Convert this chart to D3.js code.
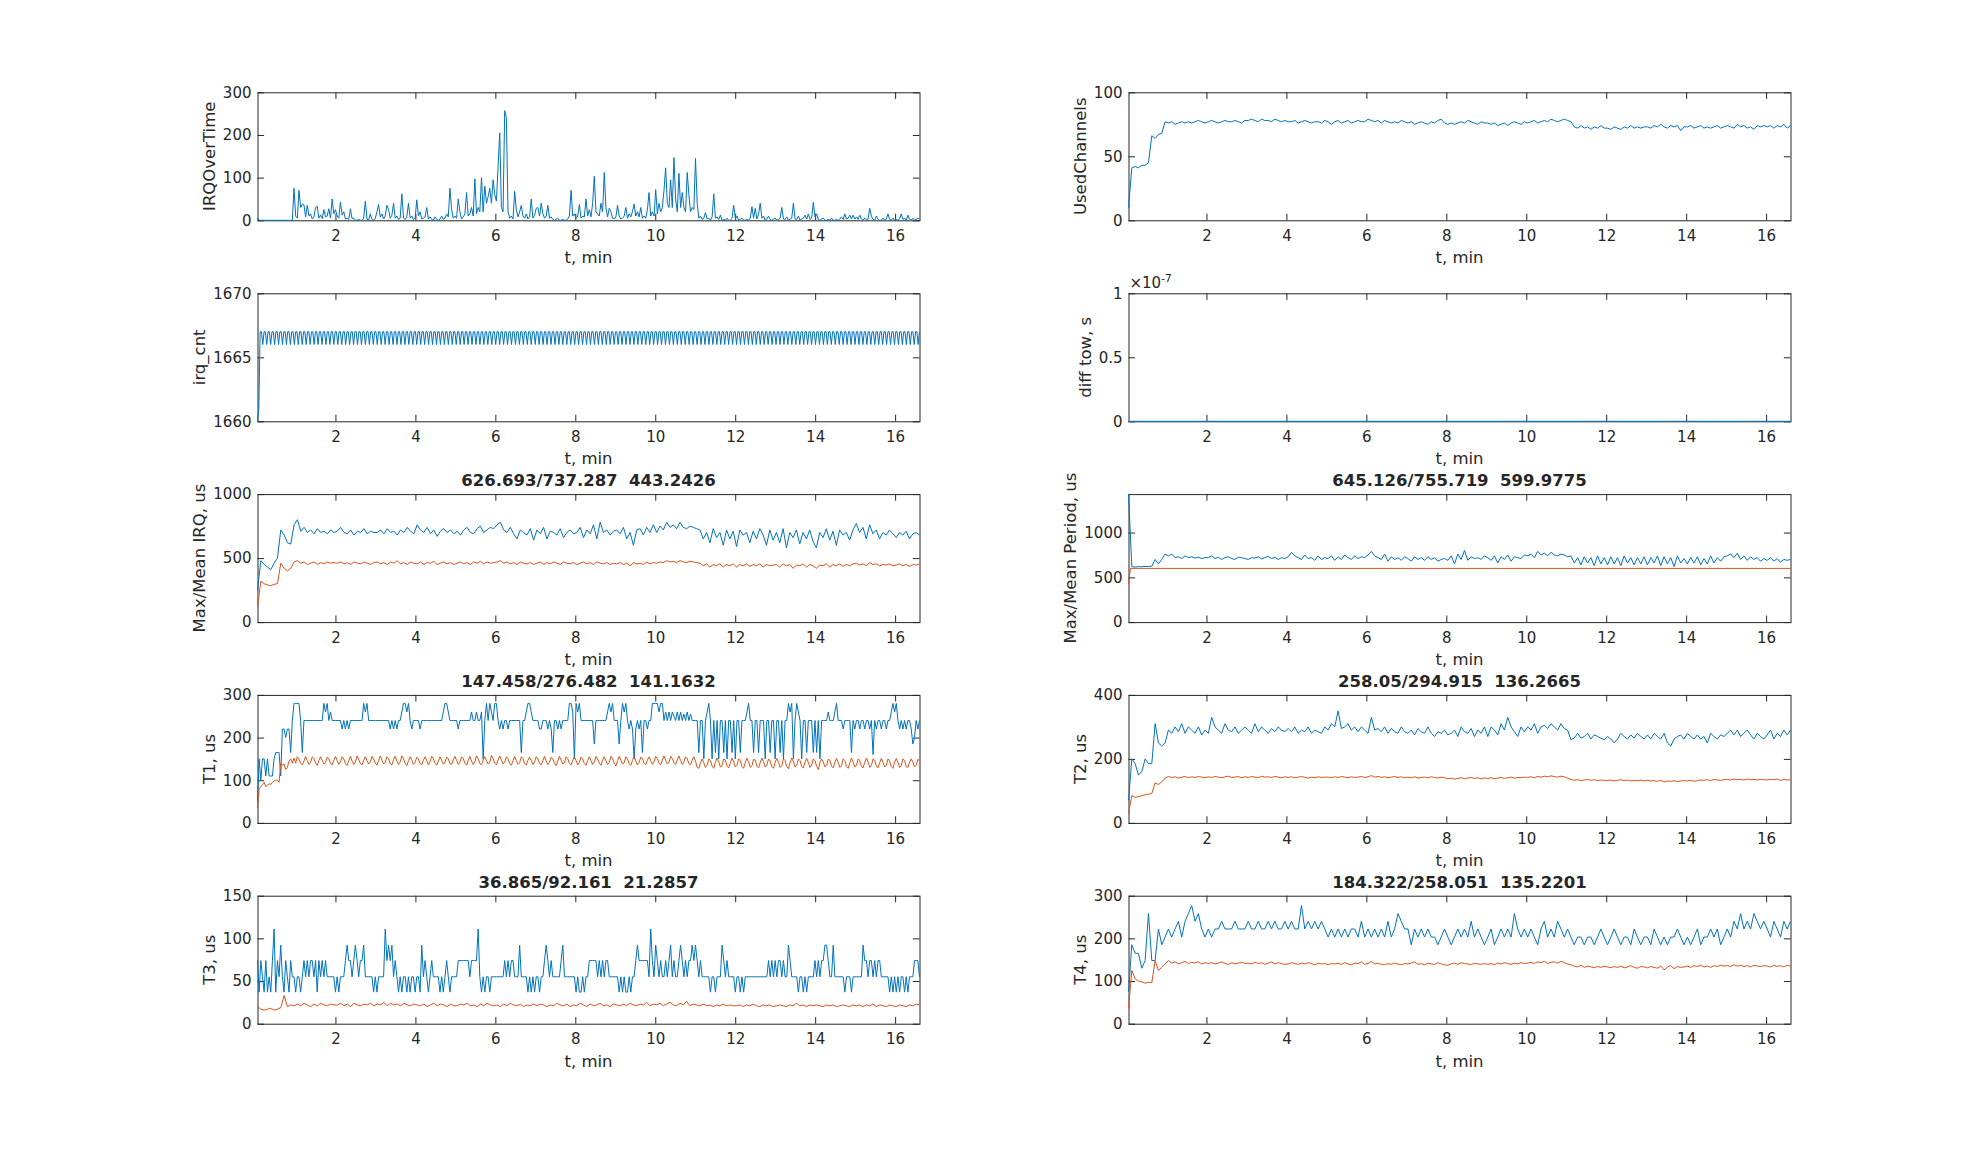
<!DOCTYPE html>
<html>
<head>
<meta charset="utf-8">
<script src="https://cdnjs.cloudflare.com/ajax/libs/d3/7.8.5/d3.min.js"></script>
<style>
  body { margin: 0; background: #fff; }
  svg text { font-family: "DejaVu Sans", sans-serif; fill: #262626; }
</style>
</head>
<body>
<div id="chart"></div>
<script>
// time axis, minutes (samples are evenly spaced over this range)
const tStart = 0.05, tEnd = 16.61;
const xTicks = [2, 4, 6, 8, 10, 12, 14, 16];

// IRQOverTime (400 samples)
const irqOverTime = [
  5,0,0,0,0,0,0,0,0,0,0,0,0,0,0,0,0,0,0,0,0,0,75,10,
  5,70,30,38,36,8,35,10,15,3,8,30,33,5,12,4,25,8,10,27,5,50,15,25,
  10,5,43,12,20,3,5,2,27,4,5,0,0,2,0,0,5,45,3,0,15,2,0,5,
  20,37,8,15,3,10,35,25,5,12,40,5,10,2,5,62,5,2,8,40,5,10,2,5,
  48,10,20,3,5,8,30,3,8,2,0,8,2,0,3,10,2,5,15,8,75,25,5,10,
  5,50,20,3,8,15,65,10,15,30,10,97,15,30,20,100,20,80,40,55,75,40,95,60,
  45,125,205,30,20,257,240,20,5,10,3,68,25,8,20,35,10,5,15,3,8,50,5,12,
  28,30,10,40,15,5,10,35,5,8,2,0,3,5,0,0,2,0,0,3,10,70,10,15,
  5,10,37,5,10,8,50,10,25,8,40,103,20,15,10,40,20,112,30,8,28,20,5,3,
  8,35,10,3,5,10,30,5,15,8,20,38,10,20,8,30,5,10,5,25,65,10,20,10,
  72,15,40,20,30,70,123,40,30,95,30,147,50,20,110,30,65,30,20,112,60,20,30,25,
  145,40,5,10,2,5,18,3,5,0,8,62,5,8,2,12,0,2,0,5,0,0,5,35,
  5,10,0,2,5,0,0,2,0,5,32,5,28,3,15,40,5,10,0,3,10,2,0,3,
  5,0,2,5,30,3,2,8,0,3,5,40,3,2,10,0,3,5,12,3,15,2,5,42,
  8,15,2,0,3,5,0,0,2,0,5,0,0,2,0,3,8,2,15,3,5,12,3,12,
  3,8,2,12,3,0,5,2,3,28,10,2,0,10,2,0,0,5,0,3,15,2,0,5,
  0,2,0,3,15,2,5,0,12,2,0,5,0,2,5,3
];

// irq_cnt (dense samples, mostly 1667 with short dips to 1666)
const irqCnt = [
  1660,1661,1667,1667,1666,1667,1667,1666,1667,1667,1666,1667,1667,1666,1667,1667,1666,1667,1667,1666,1667,1667,1666,1667,
  1667,1666,1667,1667,1666,1667,1667,1666,1667,1667,1666,1667,1667,1666,1667,1667,1666,1667,1667,1666,1667,1667,1666,1667,
  1667,1666,1667,1667,1666,1667,1667,1666,1667,1667,1666,1667,1667,1666,1667,1667,1666,1667,1667,1666,1667,1667,1666,1667,
  1667,1666,1667,1667,1666,1667,1667,1666,1667,1667,1666,1667,1667,1666,1667,1667,1666,1667,1667,1666,1667,1667,1666,1667,
  1667,1666,1667,1667,1666,1667,1667,1666,1667,1667,1666,1667,1667,1666,1667,1667,1666,1667,1667,1666,1667,1667,1666,1667,
  1667,1666,1667,1667,1666,1667,1667,1666,1667,1667,1666,1667,1667,1666,1667,1667,1666,1667,1667,1666,1667,1667,1666,1667,
  1667,1666,1667,1667,1666,1667,1667,1666,1667,1667,1666,1667,1667,1666,1667,1667,1666,1667,1667,1666,1667,1667,1666,1667,
  1667,1666,1667,1667,1666,1667,1667,1666,1667,1667,1666,1667,1667,1666,1667,1667,1666,1667,1667,1666,1667,1667,1666,1667,
  1667,1666,1667,1667,1666,1667,1667,1666,1667,1667,1666,1667,1667,1666,1667,1667,1666,1667,1667,1666,1667,1667,1666,1667,
  1667,1666,1667,1667,1666,1667,1667,1666,1667,1667,1666,1667,1667,1666,1667,1667,1666,1667,1667,1666,1667,1667,1666,1667,
  1667,1666,1667,1667,1666,1667,1667,1666,1667,1667,1666,1667,1667,1666,1667,1667,1666,1667,1667,1666,1667,1667,1666,1667,
  1667,1666,1667,1667,1666,1667,1667,1666,1667,1667,1666,1667,1667,1666,1667,1667,1666,1667,1667,1666,1667,1667,1666,1667,
  1667,1666,1667,1667,1666,1667,1667,1666,1667,1667,1666,1667,1667,1666,1667,1667,1666,1667,1667,1666,1667,1667,1666,1667,
  1667,1666,1667,1667,1666,1667,1667,1666,1667,1667,1666,1667,1667,1666,1667,1667,1666,1667,1667,1666,1667,1667,1666,1667,
  1667,1666,1667,1667,1666,1667,1667,1666,1667,1667,1666,1667,1667,1666,1667,1667,1666,1667,1667,1666,1667,1667,1666,1667,
  1667,1666,1667,1667,1666,1667,1667,1666,1667,1667,1666,1667,1667,1666,1667,1667,1666,1667,1667,1666,1667,1667,1666,1667,
  1667,1666,1667,1667,1666,1667,1667,1666,1667,1667,1666,1667,1667,1666,1667,1667,1666,1667,1667,1666,1667,1667,1666,1667,
  1667,1666,1667,1667,1666,1667,1667,1666,1667,1667,1666,1667,1667,1666,1667,1667,1666,1667,1667,1666,1667,1667,1666,1667,
  1667,1666,1667,1667,1666,1667,1667,1666,1667,1667,1666,1667,1667,1666,1667,1667,1666,1667,1667,1666,1667,1667,1666,1667,
  1667,1666,1667,1667,1666,1667,1667,1666,1667,1667,1666,1667,1667,1666,1667,1667,1666,1667,1667,1666,1667,1667,1666,1667,
  1667,1666,1667,1667,1666,1667,1667,1666,1667,1667,1666,1667,1667,1666,1667,1667,1666,1667,1667,1666,1667,1667,1666,1667
];

// UsedChannels (200 samples)
const usedChannels = [
  10,41,42,41,43,43,45,66,64,67,68,77,
  76,77,75,76,77,76,77,76,77,78,77,76,
  77,78,77,76,77,78,77,77,78,77,76,78,
  78,79,78,77,79,78,78,77,79,78,77,78,
  77,77,78,76,77,78,77,76,77,77,76,78,
  77,75,77,78,76,77,78,76,77,78,77,77,
  79,78,77,78,76,78,77,76,77,76,78,77,
  76,77,75,76,77,76,75,77,76,78,79,76,
  75,76,75,76,77,76,78,77,76,75,77,76,
  76,75,76,74,75,76,74,76,77,76,75,77,
  76,77,78,76,77,78,77,79,78,77,78,79,
  78,77,73,72,74,72,73,71,73,72,74,72,
  72,71,73,72,71,73,72,74,72,73,72,73,
  73,72,74,73,75,73,72,74,73,74,70,73,
  73,74,72,73,74,72,73,72,73,74,72,73,
  74,73,72,75,73,74,72,73,71,74,73,74,
  73,74,72,74,73,75,72,74
];

// diff tow, s
const diffTow = [0,0,0,0,0,0,0,0,0,0];

// Max/Mean IRQ, us (200 samples each)
const irqMax = [
  250,480,450,430,410,460,500,720,680,620,610,760,
  800,710,740,700,720,690,730,700,710,690,720,700,
  710,740,700,690,720,680,710,700,730,690,710,700,
  700,720,690,730,700,710,680,720,700,740,710,690,
  760,720,700,740,690,720,670,710,730,700,720,690,
  710,680,720,740,700,690,730,750,700,720,740,730,
  760,780,720,700,740,690,650,720,700,680,730,640,
  720,690,740,650,710,700,680,730,660,700,720,690,
  700,740,660,720,690,760,650,780,700,720,680,710,
  720,690,740,650,700,600,720,730,680,740,700,760,
  700,750,720,780,740,760,730,780,740,730,750,740,
  730,720,650,700,620,730,660,700,600,720,650,710,
  590,720,680,700,620,710,650,730,680,600,720,640,
  700,620,730,580,700,660,720,610,700,650,720,630,
  580,700,660,730,640,710,600,720,680,700,640,720,
  770,700,740,650,760,690,720,650,700,680,720,690,
  660,700,680,710,650,690,700,680
];
const irqMean = [
  120,320,300,290,285,295,300,460,420,400,420,470,
  480,460,470,450,460,470,450,465,455,470,460,465,
  460,470,455,465,450,470,460,455,470,460,450,465,
  470,455,465,450,470,460,480,455,465,450,470,460,
  455,470,450,465,460,475,450,460,470,455,465,450,
  460,470,455,465,450,470,460,475,455,470,460,465,
  470,480,460,470,455,465,450,470,460,455,465,450,
  460,470,450,465,455,470,460,450,470,460,455,465,
  450,460,470,455,465,450,470,460,455,465,450,460,
  455,465,450,460,440,465,455,460,450,470,455,465,
  460,470,465,480,470,475,465,480,470,465,475,470,
  465,460,440,455,430,450,440,455,430,450,440,455,
  430,450,440,455,435,450,440,455,430,450,440,445,
  450,430,455,440,450,420,445,440,455,430,450,440,
  420,445,440,455,430,450,440,455,435,450,440,455,
  460,445,455,440,465,450,455,440,450,445,455,440,
  445,455,440,450,435,450,445,455
];

// Max/Mean Period, us
const periodMax = [
  1430,620,615,620,618,622,620,625,700,650,700,760,
  740,760,720,730,710,740,720,730,715,725,710,720,
  720,740,710,725,700,720,730,710,700,725,720,710,
  700,720,715,730,705,720,735,710,725,700,720,710,
  730,780,740,720,700,750,710,720,690,740,700,720,
  710,740,690,730,700,750,720,700,740,710,730,720,
  750,790,740,720,700,760,680,730,700,720,690,730,
  710,680,730,700,720,690,730,700,720,680,700,710,
  690,740,650,760,700,800,690,730,710,720,700,740,
  720,690,740,660,730,700,750,680,730,720,710,750,
  740,760,720,790,750,770,740,780,750,740,760,750,
  730,740,660,720,640,730,660,720,630,740,650,720,
  640,730,650,720,630,740,660,720,640,720,650,730,
  640,720,660,740,630,730,650,720,620,740,660,710,
  650,720,660,730,640,710,650,740,660,720,680,730,
  740,760,720,770,700,740,690,730,700,720,680,710,
  690,720,680,710,670,700,690,700
];
const periodMeanT = [0.05, 0.1, 16.61];
const periodMean = [430, 600, 600];

// T1, us (400 samples each)
const t1Max = [
  50,150,100,150,150,110,150,110,110,110,150,165,165,165,110,220,220,200,220,220,165,240,280,280,
  280,280,240,165,240,240,240,240,240,240,240,240,240,240,240,240,280,260,280,240,260,240,240,240,
  240,240,240,220,240,220,240,220,240,240,240,240,240,240,240,240,280,260,280,240,240,240,240,240,
  240,240,240,240,240,240,240,240,220,240,220,240,220,240,240,260,280,280,260,280,240,220,240,240,
  240,240,220,240,240,240,240,240,240,240,240,240,240,240,240,240,260,280,280,260,240,240,240,240,
  240,220,240,240,240,240,240,240,240,260,240,240,260,240,240,260,150,240,280,240,280,260,240,280,
  280,240,220,240,220,240,240,220,240,240,240,240,240,240,240,165,240,240,260,280,280,260,240,240,
  240,240,220,220,240,240,240,220,240,220,165,240,240,220,240,220,240,240,240,240,280,280,260,150,
  280,260,280,240,240,240,240,240,240,240,240,185,240,240,240,240,240,240,240,260,280,260,280,240,
  240,240,185,240,280,260,280,240,220,240,220,150,220,240,220,240,165,240,240,220,240,240,280,280,
  280,280,260,280,280,240,260,240,260,240,260,250,240,260,240,260,240,255,240,260,240,255,240,240,
  240,240,165,240,240,150,240,260,280,240,150,240,165,240,150,240,240,165,240,150,240,240,165,240,
  150,240,240,165,240,240,240,260,280,240,240,165,240,240,165,240,240,240,150,240,240,165,240,240,
  150,240,240,165,240,150,240,240,280,260,280,150,240,280,260,240,150,240,240,165,240,240,240,165,
  240,165,240,150,240,240,240,240,260,240,240,240,260,280,240,240,240,220,240,240,240,240,165,240,
  220,240,240,220,240,240,220,240,240,220,240,160,240,220,240,240,220,240,240,220,240,240,260,280,
  260,280,240,220,240,220,240,220,240,240,220,185,200,240,220,240
];
const t1Mean = [
  35,80,85,90,95,85,88,92,90,95,98,100,100,95,140,135,138,125,130,145,150,140,152,140,
  155,150,140,136,145,156,146,137,142,155,151,140,135,146,155,147,138,141,154,150,139,136,147,156,
  146,137,143,155,150,139,135,146,156,145,137,142,157,149,139,136,147,155,146,138,143,156,150,140,
  135,146,157,147,138,142,155,151,139,136,148,156,145,137,143,157,150,140,134,146,155,147,137,142,
  154,150,139,136,147,155,146,136,143,156,151,140,135,145,155,147,138,141,154,150,139,137,148,156,
  146,137,142,155,151,140,135,146,156,145,137,143,157,150,139,136,147,155,146,138,142,158,151,140,
  136,147,157,148,138,142,155,150,139,135,146,156,146,137,141,155,151,139,136,147,154,146,137,143,
  155,150,139,136,146,156,145,137,142,154,150,140,134,145,156,147,138,141,155,151,139,136,147,155,
  146,136,142,154,150,139,135,146,155,146,137,143,156,150,140,135,147,155,145,137,142,156,151,140,
  133,146,156,147,138,141,155,150,139,135,146,156,145,136,142,154,151,140,136,147,155,146,137,143,
  156,151,140,136,147,157,147,138,142,156,151,141,137,148,157,146,137,143,155,150,139,136,147,155,
  145,130,128,140,150,141,130,135,150,146,133,128,142,152,143,131,134,150,147,133,129,141,152,143,
  131,135,150,146,132,128,142,151,143,130,134,149,147,133,129,141,152,143,131,135,150,145,132,128,
  142,151,142,130,134,150,146,132,127,141,152,143,131,135,150,146,132,129,142,151,142,130,135,150,
  146,133,125,141,150,143,131,135,149,147,133,129,142,151,142,130,134,150,146,132,128,141,152,143,
  131,135,150,146,132,129,142,152,143,130,134,150,147,133,129,141,151,142,131,135,150,145,132,128,
  142,151,142,130,134,150,146,132,130,142,150,143,131,135,149,146
];

// T2, us (200 samples each)
const t2Max = [
  70,200,185,150,160,200,185,185,310,250,240,250,
  290,280,300,285,310,280,300,290,280,300,275,290,
  280,330,300,290,280,310,290,285,300,280,290,300,
  290,280,310,285,300,290,280,295,285,300,290,285,
  295,285,300,280,290,285,300,280,290,285,280,300,
  290,310,300,350,295,300,310,290,300,285,300,290,
  280,330,290,295,285,300,280,295,285,280,300,285,
  280,290,275,295,285,280,300,280,270,285,280,290,
  275,280,290,270,300,285,280,295,270,290,280,300,
  270,300,290,275,310,290,330,300,285,270,300,285,
  300,290,310,280,300,305,295,310,300,290,310,295,
  290,260,265,280,265,270,280,262,275,270,265,260,
  270,262,250,262,280,270,262,275,265,280,270,262,
  275,262,280,270,262,280,250,240,262,270,275,262,
  280,270,262,275,262,270,250,280,270,262,275,270,
  280,290,275,290,270,280,290,275,262,280,270,262,
  275,290,262,280,270,290,275,290
];
const t2Mean = [
  30,85,80,82,85,88,90,92,125,120,128,140,
  145,142,144,140,143,145,141,144,142,145,143,141,
  144,142,145,143,141,144,146,142,143,145,141,144,
  142,145,143,141,146,143,144,142,145,143,141,144,
  142,144,141,143,145,142,140,143,141,144,142,143,
  143,141,144,142,145,143,141,144,142,143,145,142,
  144,148,143,145,142,144,141,143,145,142,144,141,
  143,141,144,140,142,143,141,144,142,140,143,141,
  138,140,137,139,141,138,140,142,139,141,138,140,
  139,141,138,140,142,139,141,143,140,142,141,143,
  142,144,141,145,143,146,144,147,145,143,146,144,
  140,136,133,135,132,134,136,133,135,132,134,133,
  132,134,131,133,135,132,134,131,133,132,134,131,
  133,131,132,130,133,128,131,130,132,129,131,132,
  131,133,130,132,134,133,135,132,136,134,133,135,
  136,134,137,135,136,134,137,135,136,134,136,135,
  134,136,135,137,133,136,134,135
];

// T3, us: max 400 samples, mean 200 samples
const t3Max = [
  74,37,74,55,37,74,37,55,37,74,111,37,74,55,92,55,37,74,55,37,74,55,55,37,
  55,55,37,55,74,55,74,55,74,74,55,74,37,74,55,74,55,74,55,55,55,55,55,37,
  55,37,55,55,55,74,92,74,74,55,74,92,74,55,74,74,92,55,55,55,55,55,37,55,
  37,55,55,55,55,111,74,92,74,92,55,74,55,37,55,37,55,55,37,55,37,55,55,37,
  55,55,37,92,55,74,55,37,55,74,55,55,55,55,37,55,37,55,74,55,37,55,55,55,
  55,74,74,74,74,74,74,74,55,74,74,74,74,111,55,37,55,37,55,55,37,55,55,55,
  55,55,55,55,55,74,55,74,55,74,74,55,55,55,92,55,55,55,55,37,55,37,55,37,
  55,55,37,55,55,74,92,74,55,74,55,55,55,55,55,74,92,55,55,55,55,55,55,55,
  37,55,37,37,55,37,55,55,74,74,74,74,74,55,74,55,74,55,74,74,55,55,55,55,
  55,55,37,55,37,55,37,37,55,37,55,55,74,92,74,74,74,74,74,74,55,111,74,55,
  92,74,55,74,55,55,74,55,74,92,55,74,55,55,74,92,74,55,74,55,74,74,92,74,
  92,74,55,74,55,55,55,55,55,37,55,55,37,55,55,55,92,74,55,74,55,55,55,55,
  37,55,55,37,55,37,55,55,55,55,55,55,55,55,55,55,55,55,55,55,74,55,74,55,
  74,55,74,74,55,74,55,55,92,74,55,55,55,55,37,55,55,37,55,37,55,55,55,55,
  74,55,74,55,74,74,92,92,74,55,55,92,55,55,55,55,55,55,37,55,55,55,37,55,
  55,55,55,55,55,92,74,74,55,74,74,55,74,55,74,74,55,55,55,55,55,37,55,37,
  55,37,55,37,55,55,37,55,37,55,55,55,74,74,74,55
];
const t3Mean = [
  20,17,16,17,18,16,17,19,33,20,22,21,
  23,21,24,22,20,23,21,24,22,21,23,22,
  22,24,21,23,20,24,22,21,23,22,24,21,
  23,22,25,21,24,22,23,21,24,22,21,23,
  22,21,23,20,22,24,21,23,22,20,23,21,
  21,23,22,24,21,22,20,23,21,24,22,21,
  22,20,23,21,24,22,21,23,20,22,21,23,
  21,23,22,20,22,21,24,22,21,23,20,22,
  21,24,22,20,23,21,22,24,21,22,20,23,
  22,21,23,21,24,22,21,23,22,25,21,23,
  22,24,21,23,25,22,21,24,22,26,21,23,
  22,21,23,21,22,20,22,21,23,21,22,21,
  21,22,20,22,21,23,21,20,22,21,22,20,
  21,22,21,20,22,21,24,21,22,20,22,21,
  22,21,20,22,21,22,20,21,22,21,20,22,
  21,22,20,22,21,23,20,22,21,20,22,21,
  20,22,21,20,22,21,23,22
];

// T4, us (200 samples each)
const t4Max = [
  75,185,165,165,130,148,258,148,148,222,185,203,
  222,203,222,240,203,240,258,277,240,258,222,203,
  222,203,222,222,240,222,222,222,240,222,222,222,
  240,222,222,240,222,222,240,222,240,222,222,240,
  222,240,222,222,277,222,240,222,240,222,240,222,
  203,222,203,222,203,222,203,222,222,203,240,203,
  222,203,222,203,222,203,240,203,222,258,240,222,
  222,185,222,203,222,203,222,203,203,185,203,222,
  203,185,203,222,203,222,203,240,203,222,203,185,
  203,222,185,203,222,203,222,203,258,222,203,222,
  203,222,203,185,222,240,203,222,203,240,222,203,
  222,203,185,203,203,185,203,203,185,203,222,203,
  185,203,222,203,185,203,203,185,222,203,185,203,
  203,185,222,203,185,203,185,203,203,222,203,185,
  203,185,203,222,185,203,203,222,203,222,185,203,
  222,203,240,222,258,222,240,222,258,240,222,240,
  222,203,240,222,203,240,222,240
];
const t4Mean = [
  35,125,105,100,98,95,97,96,148,125,132,140,
  148,142,145,140,143,146,141,144,142,145,140,143,
  141,143,140,142,145,141,139,143,140,142,144,141,
  142,140,144,141,143,139,142,145,140,143,141,139,
  140,143,141,139,142,140,143,141,138,142,140,141,
  138,141,140,142,139,143,140,138,142,141,145,139,
  141,146,140,142,139,138,141,139,142,140,138,141,
  140,142,145,139,141,138,142,140,139,143,140,138,
  137,140,142,139,143,141,140,138,142,140,139,141,
  139,141,138,142,140,143,141,139,142,140,143,141,
  142,144,141,145,143,146,141,144,145,142,146,143,
  140,138,135,133,137,132,135,133,131,134,132,135,
  133,131,134,132,135,131,133,136,132,130,134,133,
  131,134,132,130,135,126,133,136,129,134,132,133,
  135,132,136,134,137,133,135,132,136,134,137,135,
  136,134,138,135,137,134,136,133,137,135,134,136,
  135,133,137,134,136,133,137,135
];

const W = 1979, H = 1160;
const colX = [257.5, 1128.5];
const rowY = [92.3, 293.3, 494.1, 694.9, 895.7];
const aw = 662, ah = 128;
const blue = "#0072BD", orange = "#D95319", axisColor = "#262626";
const tickLen = 6.6;

const svg = d3.select("#chart").append("svg")
  .attr("width", W).attr("height", H)
  .style("background", "#fff");

// evenly spaced samples across the time range
function onGrid(vals) {
  const step = (tEnd - tStart) / (vals.length - 1);
  return vals.map((v, i) => ({t: tStart + i * step, v: v}));
}
function withTimes(ts, vals) {
  return vals.map((v, i) => ({t: ts[i], v: v}));
}

function panel(p) {
  const g = svg.append("g")
    .attr("transform", `translate(${colX[p.col]},${rowY[p.row]})`);
  const x = d3.scaleLinear().domain([tStart, tEnd]).range([0, aw]);
  const y = d3.scaleLinear().domain(p.yDomain).range([ah, 0]);
  const fmt = p.tickFormat || d3.format("d");

  const clipId = `clip-${p.row}-${p.col}`;
  g.append("clipPath").attr("id", clipId)
    .append("rect").attr("x", -1).attr("y", -1.5)
    .attr("width", aw + 2).attr("height", ah + 3);

  // ticks on all four sides, pointing inwards
  const xb = g.append("g").attr("transform", `translate(0,${ah})`)
    .call(d3.axisBottom(x).tickValues(xTicks).tickSize(-tickLen).tickPadding(10).tickFormat(d3.format("d")));
  const xt = g.append("g")
    .call(d3.axisTop(x).tickValues(xTicks).tickSize(-tickLen).tickFormat(""));
  const yl = g.append("g")
    .call(d3.axisLeft(y).tickValues(p.yTicks).tickSize(-tickLen).tickPadding(6).tickFormat(fmt));
  const yr = g.append("g").attr("transform", `translate(${aw},0)`)
    .call(d3.axisRight(y).tickValues(p.yTicks).tickSize(-tickLen).tickFormat(""));

  [xb, xt, yl, yr].forEach(a => {
    a.select(".domain").remove();
    a.selectAll(".tick line").attr("stroke", axisColor).attr("stroke-width", 1);
    a.selectAll(".tick text")
      .attr("fill", axisColor)
      .style("font-family", "DejaVu Sans, sans-serif")
      .style("font-size", "15px");
  });

  g.append("rect")
    .attr("x", 0.5).attr("y", 0.5).attr("width", aw).attr("height", ah)
    .attr("fill", "none").attr("stroke", axisColor).attr("stroke-width", 1);

  const line = d3.line().x(d => x(d.t)).y(d => y(d.v));
  p.series.forEach(s => {
    g.append("path")
      .datum(s.data)
      .attr("d", line)
      .attr("fill", "none")
      .attr("stroke", s.color)
      .attr("stroke-width", 1)
      .attr("stroke-linejoin", "round")
      .attr("clip-path", `url(#${clipId})`);
  });

  // y label sits just left of the widest tick label
  let maxW = 0;
  yl.selectAll(".tick text").each(function() {
    maxW = Math.max(maxW, this.getComputedTextLength());
  });
  g.append("text")
    .attr("transform", `translate(${-6 - maxW - 8},${ah / 2}) rotate(-90)`)
    .attr("text-anchor", "middle")
    .style("font-size", "16.5px")
    .text(p.ylabel);

  g.append("text")
    .attr("x", aw / 2).attr("y", ah + 43)
    .attr("text-anchor", "middle")
    .style("font-size", "16.5px")
    .text("t, min");

  if (p.title) {
    g.append("text")
      .attr("x", aw / 2).attr("y", -8)
      .attr("text-anchor", "middle")
      .style("font-size", "16.5px")
      .style("font-weight", "bold")
      .style("white-space", "pre")
      .text(p.title);
  }

  if (p.exponent) {
    const e = g.append("text").attr("x", 1).attr("y", -5).style("font-size", "15px");
    e.append("tspan").text("×10");
    e.append("tspan").attr("dy", -6).style("font-size", "10.5px").text(p.exponent);
  }
}

panel({col: 0, row: 0, yDomain: [0, 300], yTicks: [0, 100, 200, 300], ylabel: "IRQOverTime",
  series: [{data: onGrid(irqOverTime), color: blue}]});
panel({col: 1, row: 0, yDomain: [0, 100], yTicks: [0, 50, 100], ylabel: "UsedChannels",
  series: [{data: onGrid(usedChannels), color: blue}]});
panel({col: 0, row: 1, yDomain: [1660, 1670], yTicks: [1660, 1665, 1670], ylabel: "irq_cnt",
  series: [{data: onGrid(irqCnt), color: blue}]});
panel({col: 1, row: 1, yDomain: [0, 1e-7], yTicks: [0, 0.5e-7, 1e-7], ylabel: "diff tow, s",
  tickFormat: d => d3.format("~g")(+(d / 1e-7).toFixed(3)), exponent: "-7",
  series: [{data: onGrid(diffTow), color: blue}]});
panel({col: 0, row: 2, yDomain: [0, 1000], yTicks: [0, 500, 1000], ylabel: "Max/Mean IRQ, us",
  title: "626.693/737.287  443.2426",
  series: [{data: onGrid(irqMax), color: blue}, {data: onGrid(irqMean), color: orange}]});
panel({col: 1, row: 2, yDomain: [0, 1430], yTicks: [0, 500, 1000], ylabel: "Max/Mean Period, us",
  title: "645.126/755.719  599.9775",
  series: [{data: onGrid(periodMax), color: blue}, {data: withTimes(periodMeanT, periodMean), color: orange}]});
panel({col: 0, row: 3, yDomain: [0, 300], yTicks: [0, 100, 200, 300], ylabel: "T1, us",
  title: "147.458/276.482  141.1632",
  series: [{data: onGrid(t1Max), color: blue}, {data: onGrid(t1Mean), color: orange}]});
panel({col: 1, row: 3, yDomain: [0, 400], yTicks: [0, 200, 400], ylabel: "T2, us",
  title: "258.05/294.915  136.2665",
  series: [{data: onGrid(t2Max), color: blue}, {data: onGrid(t2Mean), color: orange}]});
panel({col: 0, row: 4, yDomain: [0, 150], yTicks: [0, 50, 100, 150], ylabel: "T3, us",
  title: "36.865/92.161  21.2857",
  series: [{data: onGrid(t3Max), color: blue}, {data: onGrid(t3Mean), color: orange}]});
panel({col: 1, row: 4, yDomain: [0, 300], yTicks: [0, 100, 200, 300], ylabel: "T4, us",
  title: "184.322/258.051  135.2201",
  series: [{data: onGrid(t4Max), color: blue}, {data: onGrid(t4Mean), color: orange}]});
</script>
</body>
</html>
